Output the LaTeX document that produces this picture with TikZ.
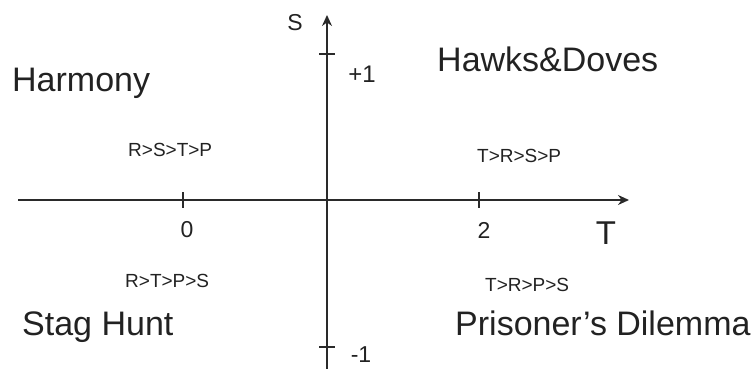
\documentclass[tikz,border=0pt]{standalone}
\usepackage{fontspec}
\setmainfont{Liberation Sans}
\usetikzlibrary{arrows.meta}
\definecolor{ink}{HTML}{222222}
\definecolor{axis}{HTML}{2a2a2a}
\tikzset{
  big/.style={inner sep=0pt, anchor=base west, text=ink, font=\fontsize{34}{40}\selectfont},
  order/.style={inner sep=0pt, anchor=base west, text=ink, font=\fontsize{19}{22}\selectfont},
  ticklabel/.style={inner sep=0pt, text=ink, font=\fontsize{23}{26}\selectfont},
  axisline/.style={draw=axis, line width=2.4pt, -{Stealth[length=11pt,width=10pt]}},
  tickmark/.style={draw=axis, line width=2.4pt}
}
\begin{document}
\begin{tikzpicture}[x=1pt,y=-1pt]
\useasboundingbox (0,0) rectangle (753,369);
% axes
\coordinate (xl) at (18,200);
\coordinate (xr) at (629,200);
\coordinate (yb) at (327,372);
\coordinate (yt) at (327,15);
\draw[axisline] (xl) -- (xr);
\draw[axisline] (yb) -- (yt);
% ticks
\coordinate (t0a) at (183,192); \coordinate (t0b) at (183,208);
\coordinate (t2a) at (479,192); \coordinate (t2b) at (479,208);
\coordinate (tpa) at (319,54);  \coordinate (tpb) at (335,54);
\coordinate (tma) at (319,347); \coordinate (tmb) at (335,347);
\draw[tickmark] (t0a) -- (t0b);
\draw[tickmark] (t2a) -- (t2b);
\draw[tickmark] (tpa) -- (tpb);
\draw[tickmark] (tma) -- (tmb);
% axis labels
\node[ticklabel] (lzero) at (187,230) {0};
\node[ticklabel] (ltwo) at (484,230) {2};
\node[ticklabel, font=\fontsize{33}{38}\selectfont] (lT) at (606,233) {T};
\node[ticklabel] (lS) at (295,23) {S};
\node[ticklabel, font=\fontsize{24}{27}\selectfont] (lp1) at (362,74) {+1};
\node[ticklabel, font=\fontsize{23}{26}\selectfont, anchor=base] (lm1) at (361,362) {-1};
% region names
\node[big] (harmony) at (12,92) {Harmony};
\node[big] (hawks) at (437,72) {Hawks\&Doves};
\node[big] (stag) at (22,335) {Stag Hunt};
\node[big] (pd) at (455,335) {Prisoner's Dilemma};
% orderings
\node[order] (rstp) at (128,156) {R>S>T>P};
\node[order] (trsp) at (477,162) {T>R>S>P};
\node[order] (rtps) at (125,287) {R>T>P>S};
\node[order] (trps) at (485,291) {T>R>P>S};
\end{tikzpicture}
\end{document}
